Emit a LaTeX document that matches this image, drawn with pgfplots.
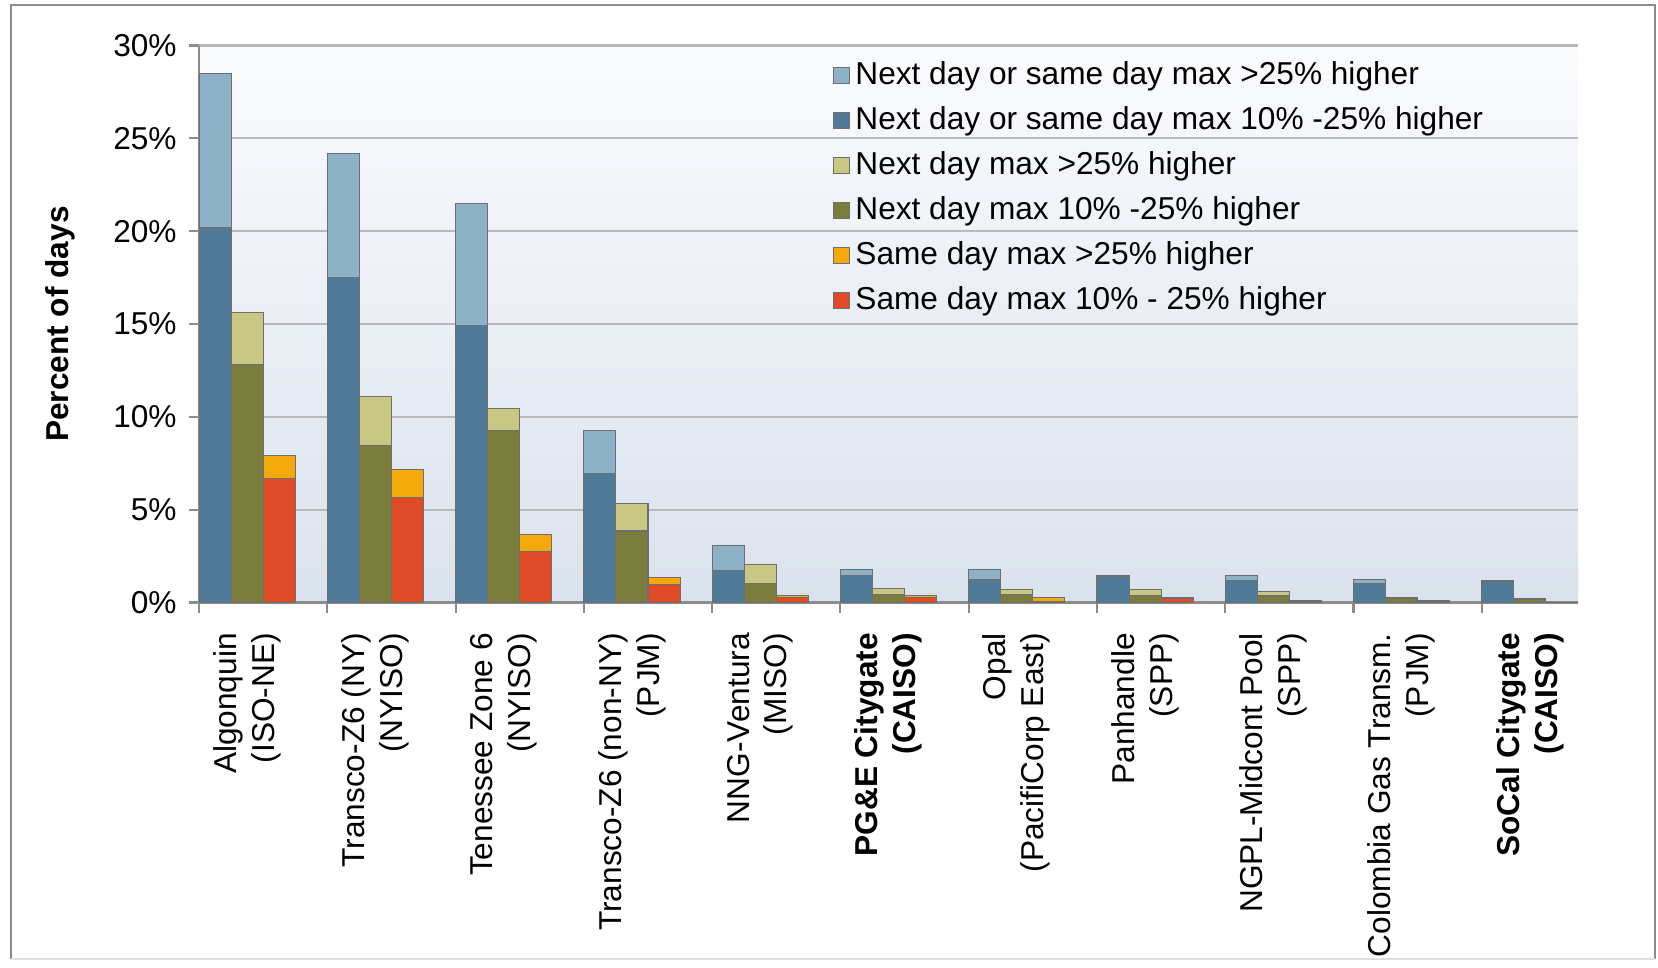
\documentclass[border=0pt]{standalone}
\usepackage{fontspec}
\setmainfont{Liberation Sans}
\usepackage{pgfplots}
\pgfplotsset{compat=1.18}
\usepackage{pgfplotstable}

\definecolor{ltblue}{RGB}{141,177,198}
\definecolor{dkblue}{RGB}{79,123,152}
\definecolor{ltolive}{RGB}{201,199,132}
\definecolor{dkolive}{RGB}{123,125,60}
\definecolor{orng}{RGB}{244,169,10}
\definecolor{rdd}{RGB}{223,75,40}
\definecolor{bgtop}{RGB}{250,251,253}
\definecolor{bgbot}{RGB}{218,226,237}
\definecolor{gridgray}{RGB}{185,185,185}
\definecolor{axisgray}{RGB}{140,140,140}
\definecolor{edge}{RGB}{110,110,110}

% slot 4k: next day or same day, 4k+1: next day, 4k+2: same day
% db/lb = next or same day 10-25% / >25%, ol/yl = next day, rd/or = same day
\pgfplotstableread{
x  db    lb    ol    yl    rd    or
0  20.2  8.3   0     0     0     0
1  0     0     12.8  2.8   0     0
2  0     0     0     0     6.7   1.2
4  17.5  6.7   0     0     0     0
5  0     0     8.45  2.65  0     0
6  0     0     0     0     5.65  1.5
8  14.9  6.6   0     0     0     0
9  0     0     9.25  1.2   0     0
10 0     0     0     0     2.77  0.9
12 6.95  2.3   0     0     0     0
13 0     0     3.85  1.5   0     0
14 0     0     0     0     0.95  0.4
16 1.7   1.38  0     0     0     0
17 0     0     1.0   1.07  0     0
18 0     0     0     0     0.25  0.15
20 1.43  0.36  0     0     0     0
21 0     0     0.45  0.3   0     0
22 0     0     0     0     0.25  0.14
24 1.25  0.54  0     0     0     0
25 0     0     0.45  0.25  0     0
26 0     0     0     0     0.07  0.2
28 1.4   0.06  0     0     0     0
29 0     0     0.4   0.3   0     0
30 0     0     0     0     0.2   0.07
32 1.16  0.27  0     0     0     0
33 0     0     0.35  0.22  0     0
34 0     0     0     0     0.07  0.05
36 1.02  0.23  0     0     0     0
37 0     0     0.2   0.07  0     0
38 0     0     0     0     0.07  0.02
40 1.12  0.05  0     0     0     0
41 0     0     0.18  0.03  0     0
42 0     0     0     0     0.02  0
}\hubs

\begin{document}
\begin{tikzpicture}
\useasboundingbox (0,0) rectangle (16.58cm,9.67cm);
\begin{axis}[
  at={(1.99cm,3.645cm)}, anchor=south west,
  width=13.79cm, height=5.57cm, scale only axis,
  ybar stacked, bar width=1,
  xmin=-0.5, xmax=42.5, ymin=0, ymax=30,
  axis x line*=bottom, axis y line*=left,
  axis line style={draw=axisgray, line width=0.6pt},
  axis background/.style={shade, top color=bgtop, bottom color=bgbot},
  ymajorgrids, grid style={draw=gridgray, line width=0.6pt},
  ytick={0,5,...,30},
  yticklabel={\pgfmathprintnumber{\tick}\%},
  /pgf/number format/assume math mode=true,
  tick align=outside,
  major tick length=0.1cm, minor tick length=0.1cm,
  tick style={draw=axisgray, line width=0.6pt},
  xtick={1,5,...,41},
  minor xtick={-0.5,3.5,...,39.5},
  every major x tick/.append style={draw=none},
  xticklabels={
    {Algonquin\\(ISO-NE)},
    {Transco-Z6 (NY)\\(NYISO)},
    {Tenessee Zone 6\\(NYISO)},
    {Transco-Z6 (non-NY)\\(PJM)},
    {NNG-Ventura\\(MISO)},
    {\bfseries PG\&E Citygate\\\bfseries (CAISO)},
    {Opal\\(PacifiCorp East)},
    {Panhandle\\(SPP)},
    {NGPL-Midcont Pool\\(SPP)},
    {Colombia Gas Transm.\\(PJM)},
    {\bfseries SoCal Citygate\\\bfseries (CAISO)}},
  xticklabel style={rotate=90, anchor=east, align=right, inner sep=0pt,
    font=\fontsize{9}{10.8}\selectfont},
  xticklabel shift=0.2cm,
  yticklabel style={font=\fontsize{9}{10.3}\selectfont},
  ylabel={\bfseries Percent of days},
  ylabel style={at={(axis description cs:-0.1008,0.5)}, anchor=center,
    font=\fontsize{9}{10.3}\selectfont},
  legend image code/.code={\draw[#1, draw=edge, line width=0.3pt] (0cm,-0.08cm) rectangle (0.16cm,0.08cm);},
  legend style={at={(rel axis cs:0.4595,0.985)}, anchor=north west,
    draw=none, fill=none, inner sep=0pt, row sep=0.95pt,
    font=\fontsize{9}{10.3}\selectfont,
    nodes={inner sep=0.05cm, text height=7pt, text depth=2pt},
    cells={anchor=west}},
  every axis plot/.append style={draw=edge, line width=0.3pt, forget plot},
]
\addplot[fill=dkblue]  table[x=x, y=db] {\hubs};
\addplot[fill=ltblue]  table[x=x, y=lb] {\hubs};
\addplot[fill=dkolive] table[x=x, y=ol] {\hubs};
\addplot[fill=ltolive] table[x=x, y=yl] {\hubs};
\addplot[fill=rdd]     table[x=x, y=rd] {\hubs};
\addplot[fill=orng]    table[x=x, y=or] {\hubs};

\addlegendimage{fill=ltblue}
\addlegendentry{Next day or same day max >25\% higher}
\addlegendimage{fill=dkblue}
\addlegendentry{Next day or same day max 10\% -25\% higher}
\addlegendimage{fill=ltolive}
\addlegendentry{Next day max >25\% higher}
\addlegendimage{fill=dkolive}
\addlegendentry{Next day max 10\% -25\% higher}
\addlegendimage{fill=orng}
\addlegendentry{Same day max >25\% higher}
\addlegendimage{fill=rdd}
\addlegendentry{Same day max 10\% - 25\% higher}
\end{axis}
\draw[axisgray, line width=0.55pt] (0.106cm,0.08cm) -- (0.106cm,9.617cm) -- (16.545cm,9.617cm) -- (16.545cm,0.08cm);
\draw[gray!25, line width=0.55pt] (0.106cm,0.08cm) -- (16.545cm,0.08cm);
\end{tikzpicture}
\end{document}
